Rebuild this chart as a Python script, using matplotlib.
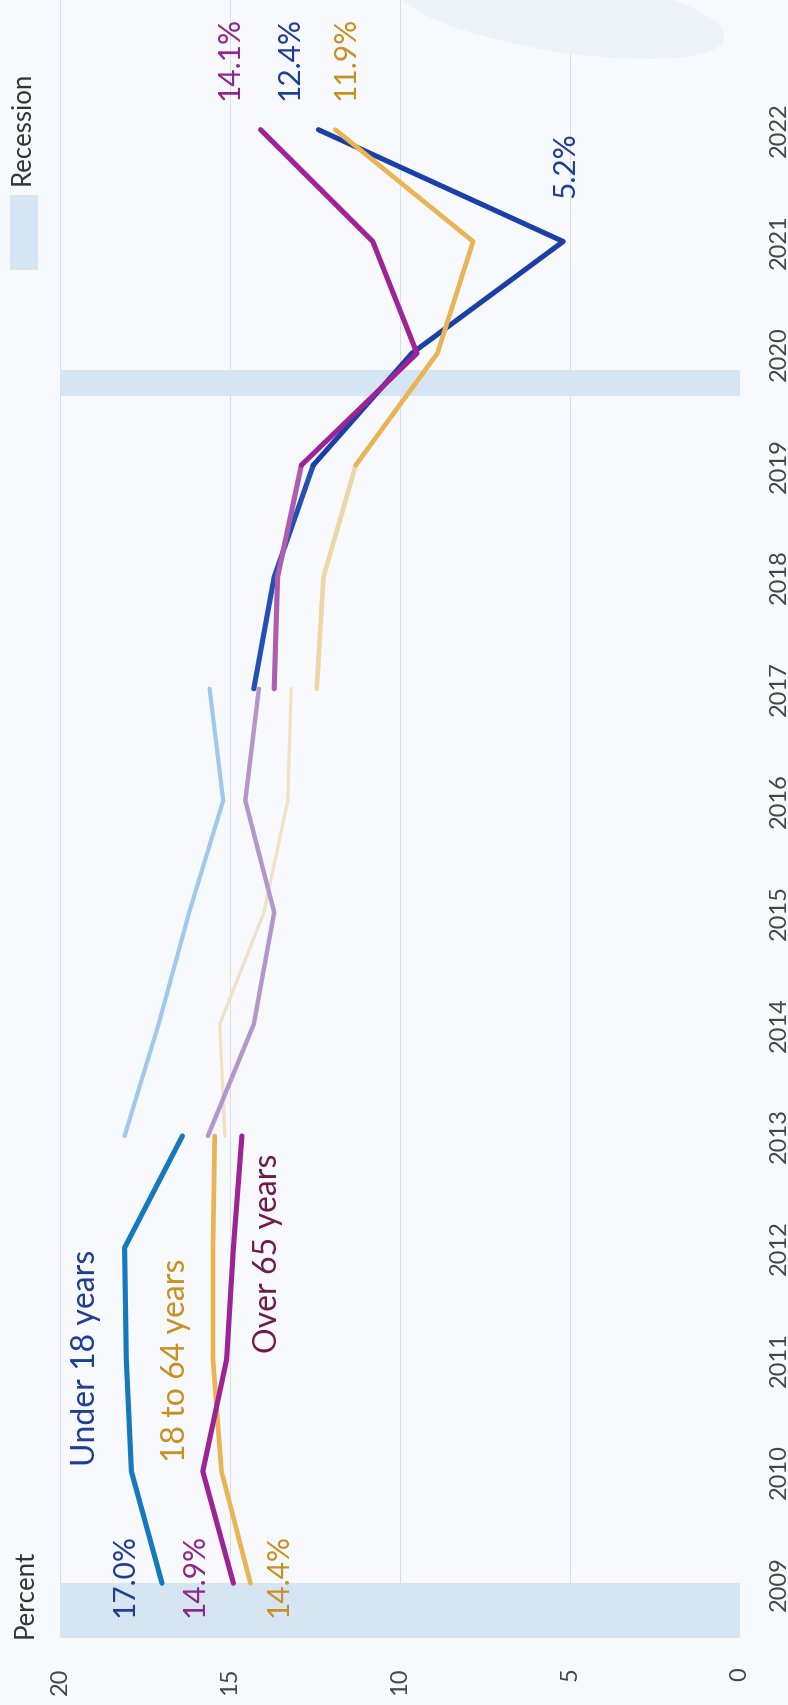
import matplotlib
matplotlib.use("Agg")
import matplotlib.pyplot as plt
from matplotlib.patches import Ellipse

plt.rcParams['font.family'] = ['Lato', 'DejaVu Sans']

# ---- data -------------------------------------------------------------
# 2009-2013 survey period
years_a = [2009, 2010, 2011, 2012, 2013]
under18_a = [17.0, 17.9, 18.05, 18.1, 16.4]
adults_a = [14.4, 15.25, 15.5, 15.5, 15.45]
seniors_a = [14.9, 15.8, 15.1, 14.9, 14.65]

# 2013-2017 revised series
years_b = [2013, 2014, 2015, 2016, 2017]
under18_b = [18.1, 17.1, 16.2, 15.2, 15.6]
adults_b = [15.15, 15.3, 14.0, 13.3, 13.2]
seniors_b = [15.65, 14.3, 13.7, 14.55, 14.15]

# 2017-2022 current series
years_c = [2017, 2018, 2019, 2020, 2021, 2022]
under18_c = [14.3, 13.7, 12.55, 9.65, 5.2, 12.4]
adults_c = [12.45, 12.25, 11.3, 8.9, 7.85, 11.9]
seniors_c = [13.7, 13.6, 12.9, 9.5, 10.8, 14.1]

recessions = [(2008.51, 2009.0), (2019.62, 2019.85)]
pct_ticks = [20, 15, 10, 5, 0]
year_ticks = list(range(2009, 2023))

# ---- styling ------------------------------------------------------------
BG = '#f8f9fd'
GRID = '#d6dee8'
SHADE = '#d5e5f3'
NAVY = '#1b3fa6'
MID_BLUE = '#1579bd'
LIGHT_BLUE = '#9fc9ee'
PURPLE = '#9c2494'
LIGHT_PURPLE = '#b596cc'
GOLD = '#e8b455'
LIGHT_GOLD = '#efe1c6'
TXT_NAVY = '#1d3d92'
TXT_GOLD = '#c8901e'
TXT_PURPLE = '#8e2689'
TXT_MAROON = '#6e1a4c'

W, H = 788, 1705
fig = plt.figure(figsize=(W / 100, H / 100), dpi=100, facecolor=BG)

# faint smudge in the upper right corner
fig.patches.append(Ellipse((560 / W, 1 - 12 / H), 330 / W, 80 / H, angle=-4,
                           transform=fig.transFigure, facecolor='#edf2f9',
                           edgecolor='none', zorder=0))

ax = fig.add_axes([60 / W, 67 / H, 680 / W, 1638 / H])
ax.set_facecolor(BG)
ax.patch.set_alpha(0)
ax.set_xlim(20, 0)
ax.set_ylim(2008.51, 2023.16)

for s in ax.spines.values():
    s.set_visible(False)

for v in pct_ticks:
    ax.axvline(v, color=GRID, lw=0.7, zorder=1)

for lo, hi in recessions:
    ax.axhspan(lo, hi, color=SHADE, zorder=1.5, lw=0)

# 2009-2013
ax.plot(under18_a, years_a, color=MID_BLUE, lw=3.7, zorder=3, solid_capstyle='round')
ax.plot(adults_a, years_a, color=GOLD, lw=3.4, zorder=3, solid_capstyle='round')
ax.plot(seniors_a, years_a, color=PURPLE, lw=3.7, zorder=3, solid_capstyle='round')

# 2013-2017
ax.plot(under18_b, years_b, color=LIGHT_BLUE, lw=3.0, zorder=3, solid_capstyle='round')
ax.plot(adults_b, years_b, color=LIGHT_GOLD, lw=2.4, zorder=3, solid_capstyle='round')
ax.plot(seniors_b, years_b, color=LIGHT_PURPLE, lw=3.2, zorder=3, solid_capstyle='round')

# 2017-2022 (first two years slightly lighter)
ax.plot(under18_c[:3], years_c[:3], color='#2450b2', lw=3.7, zorder=3, solid_capstyle='round')
ax.plot(seniors_c[:3], years_c[:3], color='#ad5db0', lw=3.7, zorder=3.1, solid_capstyle='round')
ax.plot(adults_c[:3], years_c[:3], color='#edd6a8', lw=3.4, zorder=3.2, solid_capstyle='round')
ax.plot(under18_c[2:], years_c[2:], color=NAVY, lw=3.7, zorder=4, solid_capstyle='round')
ax.plot(seniors_c[2:], years_c[2:], color=PURPLE, lw=3.7, zorder=4.1, solid_capstyle='round')
ax.plot(adults_c[2:], years_c[2:], color=GOLD, lw=3.4, zorder=4.2, solid_capstyle='round')

# ---- labels --------------------------------------------------------------
def lab(x, y, s, color, size=21.5):
    ax.text(x, y, s, color=color, fontsize=size, rotation=90,
            ha='center', va='bottom', zorder=6)

lab(19.24, 2010.05, 'Under 18 years', TXT_NAVY, 23)
lab(16.6, 2010.08, '18 to 64 years', TXT_GOLD, 23)
lab(13.88, 2011.06, 'Over 65 years', TXT_MAROON, 23)

lab(18.09, 2008.70, f'{under18_a[0]:.1f}%', TXT_NAVY)
lab(16.03, 2008.70, f'{seniors_a[0]:.1f}%', TXT_PURPLE)
lab(13.56, 2008.70, f'{adults_a[0]:.1f}%', TXT_GOLD)

lab(15.0, 2022.27, f'{seniors_c[-1]:.1f}%', TXT_PURPLE)
lab(13.26, 2022.27, f'{under18_c[-1]:.1f}%', TXT_NAVY)
lab(11.59, 2022.27, f'{adults_c[-1]:.1f}%', TXT_GOLD)
lab(5.15, 2021.39, f'{under18_c[4]:.1f}%', TXT_NAVY)

# ---- axes ticks -------------------------------------------------------
ax.set_xticks(pct_ticks)
ax.set_xticklabels([str(v) for v in pct_ticks], rotation=90, fontsize=17, color='#444444')
ax.tick_params(axis='x', length=0, pad=21)
ax.yaxis.tick_right()
ax.set_yticks(year_ticks)
ax.set_yticklabels([str(y) for y in year_ticks], rotation=90, fontsize=17,
                   color='#444444', va='center')
ax.tick_params(axis='y', length=0, pad=21)

# axis title and legend
fig.text(25 / W, 1 - 1638 / H, 'Percent', rotation=90, fontsize=18.5,
         color='#333333', ha='center', va='bottom')
fig.patches.append(plt.Rectangle((10 / W, 1 - 270 / H), 28 / W, 75 / H,
                                 transform=fig.transFigure, facecolor=SHADE,
                                 edgecolor='none'))
fig.text(22 / W, 1 - 185 / H, 'Recession', rotation=90, fontsize=18.5,
         color='#333333', ha='center', va='bottom')

fig.savefig('out.png', dpi=100, facecolor=BG)
